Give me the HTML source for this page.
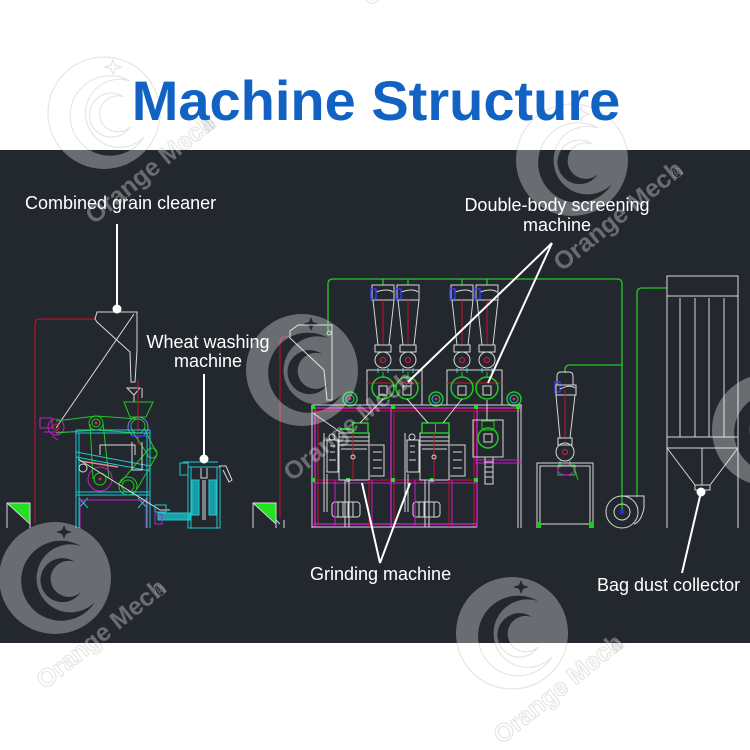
<!DOCTYPE html>
<html><head><meta charset="utf-8"><style>
html,body{margin:0;padding:0;background:#fff;}
svg{display:block;}
</style></head><body>
<svg width="750" height="750" viewBox="0 0 750 750" xmlns="http://www.w3.org/2000/svg" xmlns:xlink="http://www.w3.org/1999/xlink" font-family="Liberation Sans, Arial, sans-serif">
<defs>
  <clipPath id="dark"><rect x="0" y="150" width="750" height="493"/></clipPath>
  <clipPath id="light"><path d="M0,0H750V150H0Z M0,643H750V750H0Z"/></clipPath>
  <g id="wm">
    <path fill-rule="evenodd" d="M-56,0 A56 56 0 1 0 56,0 A56 56 0 1 0 -56,0 Z
      M26,-32 A40 40 0 1 0 40,24 A34 34 0 1 1 26,-32 Z
      M20,-16 A22 22 0 1 0 26,14 A18 18 0 1 1 20,-16 Z
      M9,-53 L11,-48 L17,-46 L11,-44 L9,-39 L7,-44 L1,-46 L7,-48 Z"/>
    <text transform="translate(-10,112) rotate(-39)" font-size="25" font-weight="bold">Orange Mech</text>
    <text transform="translate(104,20) rotate(-39)" font-size="14">®</text>
  </g>
</defs>

<!-- background -->
<rect x="0" y="0" width="750" height="750" fill="#ffffff"/>
<!-- faint watermarks on white -->
<g clip-path="url(#light)" fill="none" stroke="#000" stroke-opacity="0.10" stroke-width="1.2">
  <use xlink:href="#wm" transform="translate(104,113)"/>
  <use xlink:href="#wm" transform="translate(572,160)"/>
  <use xlink:href="#wm" transform="translate(380,-105)"/>
  <use xlink:href="#wm" transform="translate(55,578)"/>
  <use xlink:href="#wm" transform="translate(512,633)"/>
</g>

<!-- title -->
<text x="376" y="120" text-anchor="middle" font-size="56" font-weight="bold" fill="#1262c4">Machine Structure</text>

<!-- dark panel -->
<rect x="0" y="150" width="750" height="493" fill="#23282f"/>

<!-- ============ CAD DRAWING ============ -->
<g fill="none" stroke-width="1">

<!-- LEFT: green triangles -->
<path d="M7,503 H30 V523 Z" fill="#22e022" stroke="none"/>
<path d="M7,528 V503 H30 V528 M7,503 L30,524" stroke="#d8d8d8"/>
<path d="M253,503 H276 V523 Z" fill="#22e022" stroke="none"/>
<path d="M253,528 V503 H276 V528 M253,503 L276,524" stroke="#d8d8d8"/>

<!-- red line left -->
<path d="M35,523 V324 Q35,319 40,319 H95" stroke="#c8102e"/>
<!-- grain cleaner hopper -->
<path d="M95,319 L97,312 H137 V350 L135,382 H131 L130,352 L97,322 Z" stroke="#d8d8d8"/>
<path d="M134,314 L56,428" stroke="#d8d8d8"/>
<path d="M127,388 H140 L134,395 Z M134,395 V402 M142,388 V398" stroke="#d8d8d8"/>
<!-- green hopper -->
<path d="M124,402 H153 L146,417 H130 Z" stroke="#22c822"/>
<path d="M138,380 V445" stroke="#c8102e"/>
<circle cx="138" cy="426" r="7" stroke="#22c822"/>
<circle cx="138" cy="427" r="10" stroke="#8080ff"/>
<path d="M131,436 H146" stroke="#3030e0" stroke-width="2"/>
<!-- magenta motor -->
<rect x="40" y="418" width="12" height="10" stroke="#c020c0"/>
<circle cx="56" cy="427" r="8" stroke="#c020c0"/>
<path d="M44,432 H76 M52,436 L58,440" stroke="#c020c0"/>
<circle cx="56" cy="427" r="3" stroke="#e02040"/>
<!-- belts -->
<g stroke="#22c822">
  <path d="M56,421 L96,416 M56,433 L96,430 M96,416 L138,419 M96,430 L138,433"/>
  <path d="M90,424 L93,479 M103,423 L109,479"/>
  <path d="M144,428 L156,452 M132,431 L148,455 M157,455 L137,489 M147,451 L120,483"/>
  <circle cx="96" cy="423" r="7"/><circle cx="96" cy="423" r="4"/>
  <circle cx="100" cy="479" r="6"/>
  <circle cx="128" cy="486" r="9"/><circle cx="128" cy="486" r="6"/>
  <circle cx="152" cy="453" r="5"/>
</g>
<circle cx="100" cy="479" r="12" stroke="#c020c0"/>
<path d="M96,423 h0" stroke="#e02040"/>
<circle cx="96" cy="423" r="1.5" fill="#e02040" stroke="none"/>
<circle cx="100" cy="479" r="1.5" fill="#e02040" stroke="none"/>
<!-- cyan frame -->
<g stroke="#20c8d0">
  <path d="M76,430 H150 M76,433 H150 M76,430 V528 M79,433 V528 M147,433 V528 M150,430 V528"/>
  <path d="M76,492 H150 M76,495 H150"/>
  <path d="M76,452 L150,466 M76,457 L150,471"/>
  <path d="M79,498 L88,508 M88,498 L79,508 M138,498 L147,508 M147,498 L138,508"/>
</g>
<path d="M80,461 L118,467" stroke="#e08888" stroke-width="1.5"/>
<path d="M78,500 H148 M80,500 V528 M146,500 V528" stroke="#c020c0"/>
<path d="M100,455 V445 H135 V455 M132,442 V470 H142 V442" stroke="#d8d8d8"/>
<path d="M78,459 L160,510 H170" stroke="#d8d8d8"/>
<circle cx="83" cy="468" r="4" stroke="#d8d8d8"/>
<!-- bottom conveyor -->
<rect x="155" y="505" width="11" height="7" stroke="#20c8d0"/>
<rect x="158" y="513" width="32" height="7" fill="#1aa0a8" stroke="#20c8d0"/>
<rect x="155" y="514" width="7" height="10" stroke="#c020c0"/>

<!-- wheat washing machine -->
<g stroke="#20c8d0">
  <rect x="180" y="463" width="8" height="12"/>
  <path d="M183,462 H218"/>
  <rect x="188" y="467" width="32" height="61"/>
  <path d="M191,467 V528 M217,467 V528"/>
  <rect x="192" y="480" width="7" height="35" fill="#1a9aa2"/>
  <rect x="209" y="480" width="7" height="35" fill="#1a9aa2"/>
</g>
<path d="M201,468 V478 H207 V468 M203,480 V520 M205,480 V520" stroke="#d8d8d8"/>
<path d="M219,466 H226 L232,480 L229,482 L223,470" stroke="#d8d8d8"/>

<!-- MIDDLE -->
<path d="M280,518 V342 Q280,337 285,337 H290" stroke="#c8102e"/>
<path d="M276,528 V520 L280,524 M284,528 V520" stroke="#d8d8d8"/>
<path d="M290,331 L298,325 H332 V400 H327 L324,370 L290,338 Z" stroke="#d8d8d8"/>
<circle cx="329" cy="333" r="2" stroke="#d8d8d8"/>

<!-- green pipes -->
<g stroke="#22c822" stroke-width="1.3">
  <path d="M328,333 V284 Q328,279 333,279 H617 Q622,279 622,284 V510"/>
  <path d="M622,365 H570 Q565,365 565,370 V373"/>
  <path d="M637,497 V293 Q637,288 642,288 H667"/>
  <path d="M383,279 V285 M408,279 V285 M462,279 V285 M487,279 V285"/>
</g>

<!-- cyclones -->
<g id="cyc">
  <path d="M372,285 H394 V300 H372 Z M376,292 Q388,288 393,292" stroke="#d8d8d8"/>
  <rect x="371" y="289" width="5" height="10" stroke="#3040e8" stroke-width="1.5"/>
  <path d="M373,300 L378,345 M394,300 L389,345" stroke="#d8d8d8"/>
  <path d="M383,300 V345" stroke="#c8102e"/>
  <rect x="375" y="345" width="16" height="7" stroke="#d8d8d8"/>
  <circle cx="383" cy="360" r="8" stroke="#d8d8d8"/>
  <circle cx="383" cy="360" r="2.5" stroke="#e02040"/>
  <path d="M378,368 V373 M388,368 V373" stroke="#20c8d0"/>
  <path d="M383,372 V378" stroke="#22c822"/>
</g>
<use xlink:href="#cyc" transform="translate(25,0)"/>
<use xlink:href="#cyc" transform="translate(79,0)"/>
<use xlink:href="#cyc" transform="translate(104,0)"/>

<!-- sifter bodies -->
<rect x="367" y="370" width="55" height="35" stroke="#d8d8d8"/>
<rect x="447" y="370" width="55" height="35" stroke="#d8d8d8"/>
<path d="M367,383 H422 M447,383 H502" stroke="#c8102e"/>
<g stroke="#22c822" stroke-width="1.5">
  <circle cx="383" cy="388" r="11"/><circle cx="407" cy="388" r="11"/>
  <circle cx="462" cy="388" r="11"/><circle cx="487" cy="388" r="11"/>
</g>
<g stroke="#d8d8d8">
  <rect x="379" y="386" width="8" height="9"/><rect x="403" y="386" width="8" height="9"/>
  <rect x="458" y="386" width="8" height="9"/><rect x="483" y="386" width="8" height="9"/>
</g>
<!-- small fans -->
<g>
  <circle cx="350" cy="399" r="7" stroke="#22c822" stroke-width="1.5"/><circle cx="350" cy="399" r="4" stroke="#20c8d0"/><circle cx="350" cy="399" r="1.5" fill="#e02040"/>
  <circle cx="436" cy="399" r="7" stroke="#22c822" stroke-width="1.5"/><circle cx="436" cy="399" r="4" stroke="#20c8d0"/><circle cx="436" cy="399" r="1.5" fill="#e02040"/>
  <circle cx="514" cy="399" r="7" stroke="#22c822" stroke-width="1.5"/><circle cx="514" cy="399" r="4" stroke="#20c8d0"/><circle cx="514" cy="399" r="1.5" fill="#e02040"/>
</g>

<!-- main frame -->
<path d="M312,405 H522" stroke="#d8d8d8"/>
<path d="M312,408 H522" stroke="#c020c0" stroke-width="1.5"/>
<path d="M312,411 H522" stroke="#c8102e"/>
<path d="M312,405 V528 M518,405 V528 M521,405 V528" stroke="#d8d8d8"/>
<path d="M315,408 V527 M391,408 V527 M477,408 V527" stroke="#c020c0" stroke-width="1.5"/>
<path d="M318,411 V527 M394,411 V527 M474,411 V527" stroke="#c8102e"/>
<path d="M312,480 H477" stroke="#c8102e"/>
<path d="M312,483 H477" stroke="#c020c0"/>
<path d="M312,524 H477" stroke="#c020c0" stroke-width="1.5"/>
<path d="M312,527 H477" stroke="#d8d8d8"/>
<g fill="#22e022" stroke="none">
  <rect x="311" y="478" width="4" height="4"/><rect x="391" y="478" width="4" height="4"/><rect x="474" y="478" width="4" height="4"/>
  <rect x="311" y="405" width="4" height="4"/><rect x="391" y="405" width="4" height="4"/><rect x="474" y="405" width="4" height="4"/><rect x="516" y="405" width="4" height="4"/>
  <rect x="346" y="478" width="4" height="4"/><rect x="430" y="478" width="4" height="4"/>
</g>
<!-- right structure in frame -->
<path d="M475,460 H522 M475,463 H522" stroke="#c020c0"/>
<rect x="473" y="420" width="30" height="37" stroke="#d8d8d8"/>
<circle cx="488" cy="438" r="10" stroke="#22c822" stroke-width="1.5"/>
<rect x="482" y="421" width="12" height="9" stroke="#22c822"/>
<rect x="484" y="434" width="8" height="8" stroke="#d8d8d8"/>
<path d="M485,457 V484 H493 V457 M485,462 H493 M485,467 H493 M485,472 H493 M485,477 H493" stroke="#d8d8d8"/>
<path d="M487,400 V420" stroke="#d8d8d8"/>

<!-- mill 1 -->
<rect x="339" y="433" width="30" height="47" stroke="#d8d8d8"/>
<path d="M339,437 H369 M339,441 H369 M339,445 H369 M341,449 H367" stroke="#d8d8d8"/>
<rect x="353" y="423" width="15" height="10" stroke="#22c822" stroke-width="1.5"/>
<path d="M340,429 H353" stroke="#22c822" stroke-width="2"/>
<path d="M353,433 V480" stroke="#c8102e"/>
<circle cx="353" cy="457" r="2" stroke="#d8d8d8"/>
<path d="M327,440 H338 V472 H327 Z M330,446 h5 M330,452 h5 M329,460 h7" stroke="#d8d8d8"/>
<circle cx="332" cy="437" r="3" stroke="#d8d8d8"/>
<path d="M370,445 H384 V476 H370 M373,452 h9 M373,460 h9 M373,468 h9" stroke="#d8d8d8"/>
<rect x="332" y="502" width="28" height="15" rx="3" stroke="#d8d8d8"/>
<path d="M338,502 V517 M343,502 V517 M348,502 V517 M353,502 V517" stroke="#d8d8d8"/>
<path d="M324,433 V512 M327,474 V512" stroke="#d8d8d8"/>
<path d="M335,480 V527 M372,480 V527" stroke="#c020c0"/>
<path d="M345,480 V527 M349,480 V527" stroke="#d8d8d8"/>
<path d="M369,480 V527" stroke="#c8102e"/>
<!-- mill 2 -->
<rect x="420" y="433" width="29" height="47" stroke="#d8d8d8"/>
<path d="M420,437 H449 M420,441 H449 M420,445 H449 M422,449 H447" stroke="#d8d8d8"/>
<rect x="422" y="423" width="27" height="10" stroke="#22c822" stroke-width="1.5"/>
<path d="M435.5,423 V433" stroke="#22c822"/>
<path d="M434,433 V480" stroke="#c8102e"/>
<circle cx="434" cy="457" r="2" stroke="#d8d8d8"/>
<path d="M407,440 H419 V472 H407 Z M410,446 h5 M410,452 h5 M409,460 h7" stroke="#d8d8d8"/>
<circle cx="412" cy="437" r="3" stroke="#d8d8d8"/>
<path d="M450,445 H465 V476 H450 M453,452 h9 M453,460 h9 M453,468 h9" stroke="#d8d8d8"/>
<rect x="413" y="502" width="27" height="15" rx="3" stroke="#d8d8d8"/>
<path d="M419,502 V517 M424,502 V517 M429,502 V517 M434,502 V517" stroke="#d8d8d8"/>
<path d="M405,433 V512 M408,474 V512" stroke="#d8d8d8"/>
<path d="M415,480 V527 M452,480 V527" stroke="#c020c0"/>
<path d="M425,480 V527 M429,480 V527" stroke="#d8d8d8"/>
<path d="M449,480 V527" stroke="#c8102e"/>
<!-- feed lines -->
<path d="M383,399 L360,423 M407,399 L428,423 M462,399 L443,423 M313,413 L340,432" stroke="#d8d8d8"/>

<!-- RIGHT: single cyclone -->
<path d="M557,385 V376 Q557,372 561,372 H569 Q573,372 573,376 V385" stroke="#d8d8d8"/>
<rect x="555" y="382" width="5" height="10" stroke="#3040e8" stroke-width="1.5"/>
<path d="M556,385 H576 V395 H556 Z M560,389 Q570,384 575,388" stroke="#d8d8d8"/>
<path d="M556,395 L560,438 M575,395 L570,438" stroke="#d8d8d8"/>
<path d="M565,390 V438" stroke="#c8102e"/>
<rect x="558" y="438" width="14" height="7" stroke="#d8d8d8"/>
<circle cx="565" cy="452" r="9" stroke="#d8d8d8"/>
<circle cx="565" cy="452" r="2.5" stroke="#e02040"/>
<path d="M560,461 V465 M570,461 V465" stroke="#20c8d0"/>
<rect x="558" y="465" width="17" height="10" stroke="#22c822"/>
<ellipse cx="566" cy="470" rx="8" ry="5" stroke="#c020c0"/>
<path d="M574,466 L578,480" stroke="#22c822"/>
<!-- stand -->
<path d="M537,528 V463 H593 V528 M540,528 V466 H590 V528" stroke="#d8d8d8"/>
<path d="M540,524 H590" stroke="#d8d8d8"/>
<rect x="537" y="522" width="4" height="6" fill="#22c822"/>
<rect x="589" y="522" width="4" height="6" fill="#22c822"/>

<!-- fan -->
<circle cx="622" cy="512" r="16" stroke="#d8d8d8"/>
<circle cx="622" cy="512" r="8" stroke="#d8d8d8"/>
<circle cx="622" cy="512" r="2.5" fill="#2030e0"/>
<path d="M622,496 H644 V508 Q641,522 634,524" stroke="#d8d8d8"/>

<!-- bag dust collector -->
<path d="M667,528 V276 H738 V528" stroke="#d8d8d8"/>
<path d="M667,296 H738 M667,437 H738 M667,448 H738" stroke="#d8d8d8"/>
<path d="M680,298 V437 M695,298 V437 M709,298 V437 M724,298 V437" stroke="#d8d8d8"/>
<path d="M667,448 L695,485 M738,448 L710,485 M702,448 V485" stroke="#d8d8d8"/>
<rect x="695" y="485" width="15" height="5" stroke="#d8d8d8"/>
</g>

<!-- gray watermarks on dark -->
<g clip-path="url(#dark)" fill="#ffffff" fill-opacity="0.32">
  <use xlink:href="#wm" transform="translate(104,113)"/>
  <use xlink:href="#wm" transform="translate(572,160)"/>
  <use xlink:href="#wm" transform="translate(302,370)"/>
  <use xlink:href="#wm" transform="translate(768,430)"/>
  <use xlink:href="#wm" transform="translate(55,578)"/>
  <use xlink:href="#wm" transform="translate(512,633)"/>
</g>

<!-- leader lines -->
<g stroke="#ffffff" stroke-width="2" fill="none">
  <path d="M117,224 V309"/>
  <path d="M204,374 V459"/>
  <path d="M552,243 L408,382 M552,243 L488,383"/>
  <path d="M380,563 L362,483 M380,563 L410,483"/>
  <path d="M682,573 L701,492"/>
</g>
<g fill="#ffffff">
  <circle cx="117" cy="309" r="4.5"/>
  <circle cx="204" cy="459" r="4.5"/>
  <circle cx="701" cy="492" r="4.5"/>
</g>

<!-- labels -->
<g fill="#ffffff" font-size="18">
  <text x="25" y="209">Combined grain cleaner</text>
  <text x="557" y="211" text-anchor="middle">Double-body screening</text>
  <text x="557" y="231" text-anchor="middle">machine</text>
  <text x="208" y="348" text-anchor="middle">Wheat washing</text>
  <text x="208" y="367" text-anchor="middle">machine</text>
  <text x="310" y="580">Grinding machine</text>
  <text x="597" y="591">Bag dust collector</text>
</g>
</svg>
</body></html>
